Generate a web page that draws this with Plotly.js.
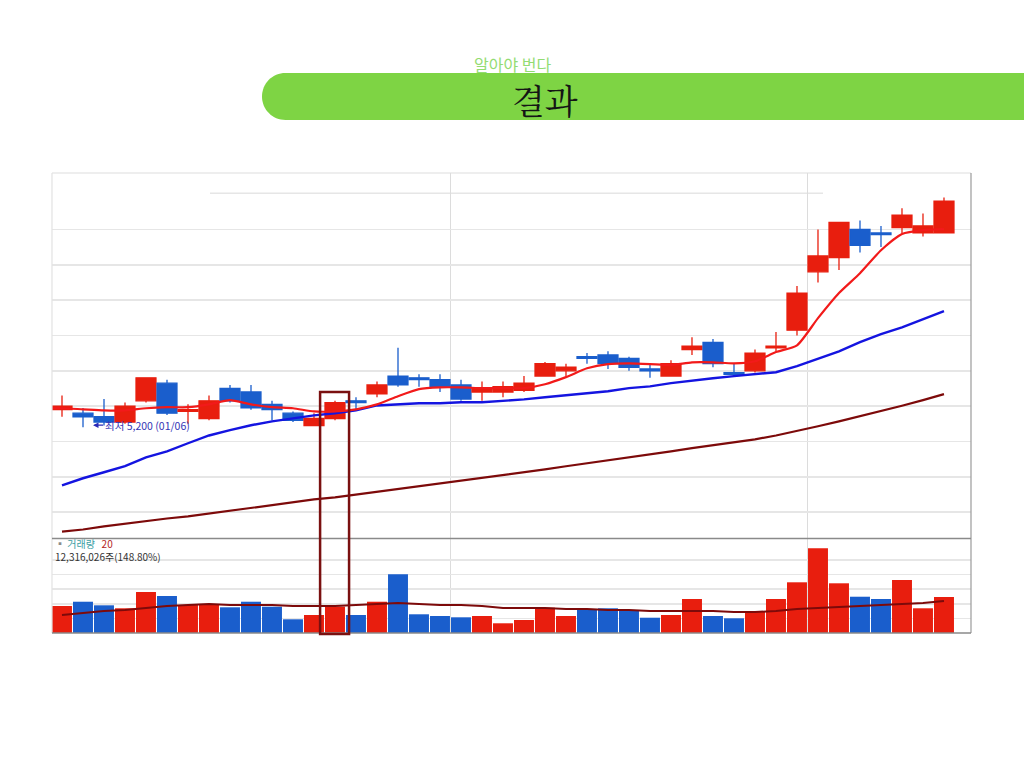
<!DOCTYPE html>
<html><head><meta charset="utf-8">
<script src="https://cdn.plot.ly/plotly-3.0.1.min.js"></script>
<style>html,body{margin:0;padding:0;background:#fff;}#chart{width:1024px;height:768px;}</style>
</head><body><div id="chart"></div>
<script>
// ---- data ----
const openP  = [5250,5240,5230,5215,5275,5325,5245,5225,5310,5300,5265,5240,5205,5225,5275,5295,5345,5340,5335,5320,5300,5300,5305,5345,5360,5400,5405,5395,5365,5345,5420,5440,5355,5360,5425,5475,5640,5680,5760,5750,5765,5750,5750];
const highP  = [5290,5255,5280,5270,5340,5335,5265,5290,5320,5320,5275,5245,5240,5275,5285,5330,5425,5350,5350,5335,5330,5330,5345,5385,5380,5410,5415,5400,5380,5390,5455,5450,5380,5420,5470,5600,5760,5780,5785,5770,5820,5805,5850];
const lowP   = [5230,5200,5205,5210,5270,5235,5210,5220,5270,5250,5220,5215,5205,5220,5250,5285,5315,5315,5300,5275,5275,5285,5300,5345,5345,5380,5365,5360,5340,5345,5405,5370,5345,5355,5415,5460,5610,5645,5695,5710,5750,5740,5750];
const closeP = [5260,5230,5215,5260,5340,5240,5250,5275,5275,5255,5250,5220,5225,5270,5270,5320,5320,5335,5315,5280,5310,5315,5325,5380,5370,5395,5380,5370,5360,5380,5430,5380,5350,5410,5430,5580,5685,5780,5715,5745,5800,5770,5840];
const ma5  = [5254,5251,5248,5248,5254,5257,5257,5265,5277,5265,5257,5254,5245,5245,5251,5265,5288,5308,5313,5313,5311,5311,5311,5322,5342,5367,5379,5381,5379,5376,5384,5384,5381,5387,5413,5432,5509,5580,5636,5701,5747,5758,5761];
const ma20 = [5036,5056,5073,5090,5115,5132,5155,5177,5192,5206,5217,5226,5234,5240,5248,5262,5265,5268,5268,5271,5271,5274,5279,5285,5291,5296,5302,5311,5316,5325,5333,5339,5345,5350,5356,5373,5393,5415,5441,5464,5483,5506,5529];
const ma60 = [4905,4911,4920,4928,4934,4942,4948,4956,4965,4971,4979,4988,4996,5002,5010,5016,5024,5033,5041,5050,5056,5064,5073,5081,5090,5098,5107,5115,5124,5132,5141,5149,5158,5166,5177,5189,5203,5217,5231,5245,5261,5277,5294];
const volume = [9230000,10700000,9470000,8450000,14020000,12650000,9580000,9920000,8790000,10700000,9000000,4690000,6160000,9000000,6160000,10700000,20080000,6400000,5810000,5370000,5810000,3320000,4450000,8650000,5810000,7870000,8450000,7870000,5230000,6160000,11630000,5810000,5030000,7520000,11630000,17340000,28970000,17000000,12410000,11630000,18130000,8450000,12316026];
const volMa20 = [6160000,6840000,7520000,7870000,8550000,9230000,9580000,9920000,9580000,9580000,9580000,9230000,9230000,9230000,9580000,9920000,10260000,9920000,9580000,9580000,9230000,8550000,8550000,8550000,8210000,8210000,7870000,7870000,7520000,7520000,7520000,7520000,7180000,7180000,7520000,8210000,8550000,8890000,9230000,9580000,9920000,10260000,10940000];
const priceGrid = [4960,5060,5160,5260,5360,5460,5560,5660,5760];
const volGrid = [5000000,10000000,15000000,20000000,25000000];
const monthBreaks = [19.5,36.5];
const lowLabel = '최저 5,200 (01/06)';
const volName = '거래량';
const volPeriod = '20';
const volLabel = '12,316,026주(148.80%)';
const titleText = '결과';
const subtitleText = '알아야 번다';

// ---- styling ----
const RED = '#e81e0e', BLUE = '#1a5ecc';
const days = openP.map((_, i) => i + 1);
const volColors = openP.map((o, i) => closeP[i] >= o ? RED : BLUE);

const PL = 52, PR = 971, PT = 173, PB = 633;
const px = x => (x - PL) / (PR - PL);
const py = y => (PB - y) / (PB - PT);

function P(x, y){ return px(x).toFixed(5) + ',' + py(y).toFixed(5); }
const r = 23.5, k = 13;
const barPath = 'M' + P(262 + r, 73) + ' L' + P(1040, 73) + ' L' + P(1040, 120) + ' L' + P(262 + r, 120) +
  ' C' + P(262 + r - k, 120) + ' ' + P(262, 96.5 + k) + ' ' + P(262, 96.5) +
  ' C' + P(262, 96.5 - k) + ' ' + P(262 + r - k, 73) + ' ' + P(262 + r, 73) + ' Z';

const traces = [
  {type:'scatter', mode:'lines', x:days, y:ma60, xaxis:'x', yaxis:'y', line:{color:'#7d0a0a', width:2.2}, hoverinfo:'skip'},
  {type:'scatter', mode:'lines', x:days, y:ma20, xaxis:'x', yaxis:'y', line:{color:'#1414e0', width:2.4}, hoverinfo:'skip'},
  {type:'scatter', mode:'lines', x:[0.55].concat(days), y:[ma5[0]].concat(ma5), xaxis:'x', yaxis:'y', line:{color:'#f21a1a', width:2.2, shape:'spline', smoothing:0.6}, hoverinfo:'skip'},
  {type:'candlestick', x:days, open:openP, high:highP, low:lowP, close:closeP, xaxis:'x', yaxis:'y',
    whiskerwidth:0,
    increasing:{line:{color:RED, width:1.3}, fillcolor:RED},
    decreasing:{line:{color:BLUE, width:1.3}, fillcolor:BLUE}, hoverinfo:'skip'},
  {type:'bar', x:days, y:volume, xaxis:'x', yaxis:'y2', marker:{color:volColors, line:{width:0}}, hoverinfo:'skip'},
  {type:'scatter', mode:'lines', x:days, y:volMa20, xaxis:'x', yaxis:'y2', line:{color:'#7d0a0a', width:2}, hoverinfo:'skip'}
];

const layout = {
  width:1024, height:768, autosize:false,
  margin:{l:PL, r:1024-PR, t:PT, b:768-PB, pad:0},
  paper_bgcolor:'#ffffff', plot_bgcolor:'#ffffff',
  showlegend:false, hovermode:false,
  boxgap:0.05, boxgroupgap:0, bargap:0.05,
  xaxis:{range:[0.524, 44.286], anchor:'y2', rangeslider:{visible:false}, tickvals:monthBreaks,
    showgrid:true, gridcolor:'#dcdcdc', gridwidth:1, showticklabels:false, ticks:'', zeroline:false, showline:false, fixedrange:true},
  yaxis:{domain:[py(538.5), 1], range:[4885.5, 5919.6], tickvals:priceGrid, showgrid:true, gridcolor:'#e6e6e6', gridwidth:1.5,
    showticklabels:false, ticks:'', zeroline:false, showline:false, fixedrange:true},
  yaxis2:{domain:[0, py(539)], range:[0, 32150000], tickvals:volGrid, showgrid:true, gridcolor:'#e6e6e6', gridwidth:1.5,
    showticklabels:false, ticks:'', zeroline:false, showline:false, fixedrange:true},
  shapes:[
    {type:'path', xref:'paper', yref:'paper', path:barPath, fillcolor:'#7ed444', line:{width:0}, layer:'below'},
    {type:'line', xref:'paper', yref:'y', x0:px(210), x1:px(823), y0:5862, y1:5862, line:{color:'#e6e6e6', width:1.5}, layer:'below'},
    {type:'line', xref:'paper', yref:'paper', x0:0, x1:1, y0:1, y1:1, line:{color:'#dedede', width:1.2}},
    {type:'line', xref:'paper', yref:'paper', x0:0, x1:0, y0:0, y1:1, line:{color:'#e2e2e2', width:1.2}},
    {type:'line', xref:'paper', yref:'paper', x0:1, x1:1, y0:0, y1:1, line:{color:'#9a9a9a', width:1.2}},
    {type:'line', xref:'paper', yref:'paper', x0:0, x1:1, y0:py(538.5), y1:py(538.5), line:{color:'#8a8a8a', width:1.3}},
    {type:'line', xref:'paper', yref:'paper', x0:0, x1:1, y0:0, y1:0, line:{color:'#8a8a8a', width:1.3}},
    {type:'rect', xref:'x', yref:'paper', x0:13.29, x1:14.67, y0:py(634), y1:py(392), line:{color:'#7a1010', width:2.5}, fillcolor:'rgba(0,0,0,0)'}
  ],
  annotations:[
    {xref:'paper', yref:'paper', x:px(512), y:py(64), text:subtitleText, showarrow:false, xanchor:'center', yanchor:'middle',
      font:{family:'Noto Sans CJK KR', size:16, color:'#93dc72'}},
    {xref:'paper', yref:'paper', x:px(545), y:py(99.5), text:titleText, showarrow:false, xanchor:'center', yanchor:'middle',
      font:{family:'Noto Serif CJK KR, Noto Sans CJK KR', size:34, color:'#151515'}},
    {xref:'x', yref:'y', x:2.48, y:5206, ax:10, ay:0, text:lowLabel, showarrow:true, arrowhead:2, arrowsize:0.9, arrowwidth:1.2,
      arrowcolor:'#2a2ab8', xanchor:'left', yanchor:'middle', standoff:0, startstandoff:0,
      font:{family:'Noto Sans CJK KR', size:10.5, color:'#3535b5'}},
    {xref:'paper', yref:'paper', x:px(53), y:py(549.5), xanchor:'left', yanchor:'middle', align:'left', showarrow:false,
      text:'<span style="color:#8c8c8c">▪</span> <span style="color:#3b9ea3">' + volName + '</span>   <span style="color:#b3261e">' + volPeriod + '</span><br>' + volLabel,
      font:{family:'Noto Sans CJK KR', size:10, color:'#333'}}
  ]
};

Plotly.newPlot('chart', traces, layout, {staticPlot:true, displayModeBar:false});
</script>
</body></html>
